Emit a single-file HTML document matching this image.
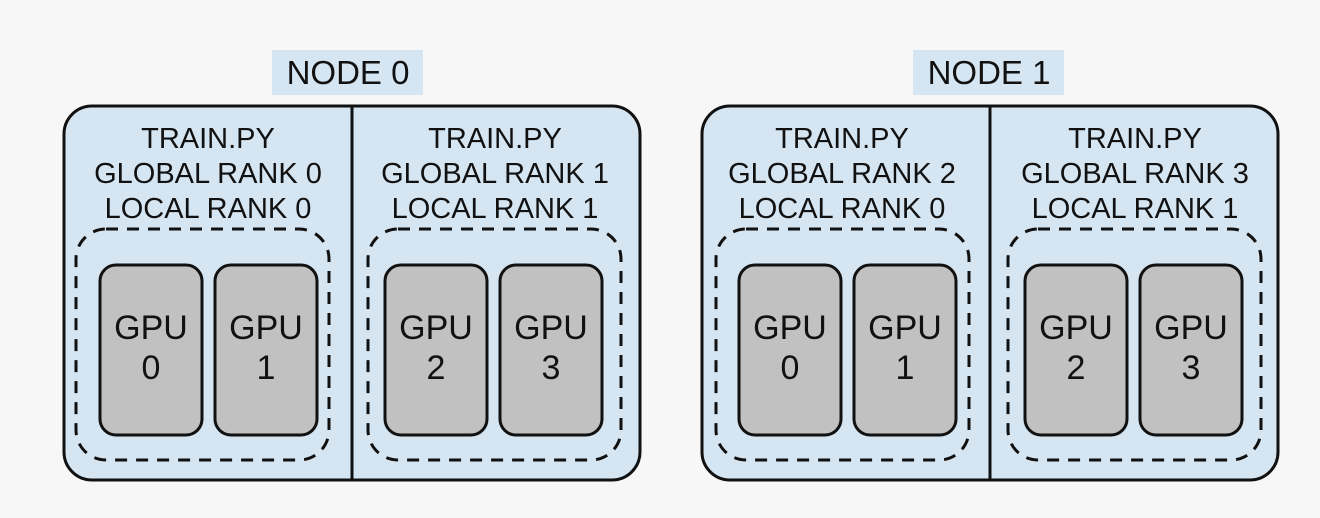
<!DOCTYPE html>
<html><head><meta charset="utf-8"><style>
html,body{margin:0;padding:0;background:#f7f7f8;}
svg{display:block;}
text{font-family:"Liberation Sans",Arial,sans-serif;fill:#111;text-anchor:middle;}
</style></head><body>
<svg width="1320" height="518" viewBox="0 0 1320 518">
<rect width="1320" height="518" fill="#f7f7f8"/>
<rect x="272" y="50" width="151" height="45" fill="#d5e5f2"/>
<text x="348" y="84" font-size="33">NODE 0</text>
<rect x="913" y="50" width="151" height="45" fill="#d5e5f2"/>
<text x="989" y="84" font-size="33">NODE 1</text>

<rect x="64" y="106" width="576" height="374" rx="28" fill="#d5e5f2" stroke="#111" stroke-width="3"/>
<line x1="352" y1="106" x2="352" y2="480" stroke="#111" stroke-width="3"/>
<rect x="702" y="106" width="576" height="374" rx="28" fill="#d5e5f2" stroke="#111" stroke-width="3"/>
<line x1="990" y1="106" x2="990" y2="480" stroke="#111" stroke-width="3"/>

<g font-size="29">
<text x="208" y="148">TRAIN.PY</text><text x="208" y="183">GLOBAL RANK 0</text><text x="208" y="218">LOCAL RANK 0</text>
<text x="495" y="148">TRAIN.PY</text><text x="495" y="183">GLOBAL RANK 1</text><text x="495" y="218">LOCAL RANK 1</text>
<text x="842" y="148">TRAIN.PY</text><text x="842" y="183">GLOBAL RANK 2</text><text x="842" y="218">LOCAL RANK 0</text>
<text x="1135" y="148">TRAIN.PY</text><text x="1135" y="183">GLOBAL RANK 3</text><text x="1135" y="218">LOCAL RANK 1</text>
</g>

<g fill="none" stroke="#111" stroke-width="3" stroke-dasharray="12 9">
<rect x="76" y="229" width="253" height="231" rx="30"/>
<rect x="368" y="229" width="253" height="231" rx="30"/>
<rect x="716" y="229" width="253" height="231" rx="30"/>
<rect x="1008" y="229" width="253" height="231" rx="30"/>
</g>

<g fill="#c1c1c1" stroke="#111" stroke-width="3">
<rect x="100" y="265" width="102" height="170" rx="16"/>
<rect x="215" y="265" width="102" height="170" rx="16"/>
<rect x="385" y="265" width="102" height="170" rx="16"/>
<rect x="500" y="265" width="102" height="170" rx="16"/>
<rect x="739" y="265" width="102" height="170" rx="16"/>
<rect x="854" y="265" width="102" height="170" rx="16"/>
<rect x="1025" y="265" width="102" height="170" rx="16"/>
<rect x="1140" y="265" width="102" height="170" rx="16"/>
</g>
<g font-size="34">
<text x="151" y="339">GPU</text><text x="151" y="379">0</text>
<text x="266" y="339">GPU</text><text x="266" y="379">1</text>
<text x="436" y="339">GPU</text><text x="436" y="379">2</text>
<text x="551" y="339">GPU</text><text x="551" y="379">3</text>
<text x="790" y="339">GPU</text><text x="790" y="379">0</text>
<text x="905" y="339">GPU</text><text x="905" y="379">1</text>
<text x="1076" y="339">GPU</text><text x="1076" y="379">2</text>
<text x="1191" y="339">GPU</text><text x="1191" y="379">3</text>
</g>
</svg>
</body></html>
